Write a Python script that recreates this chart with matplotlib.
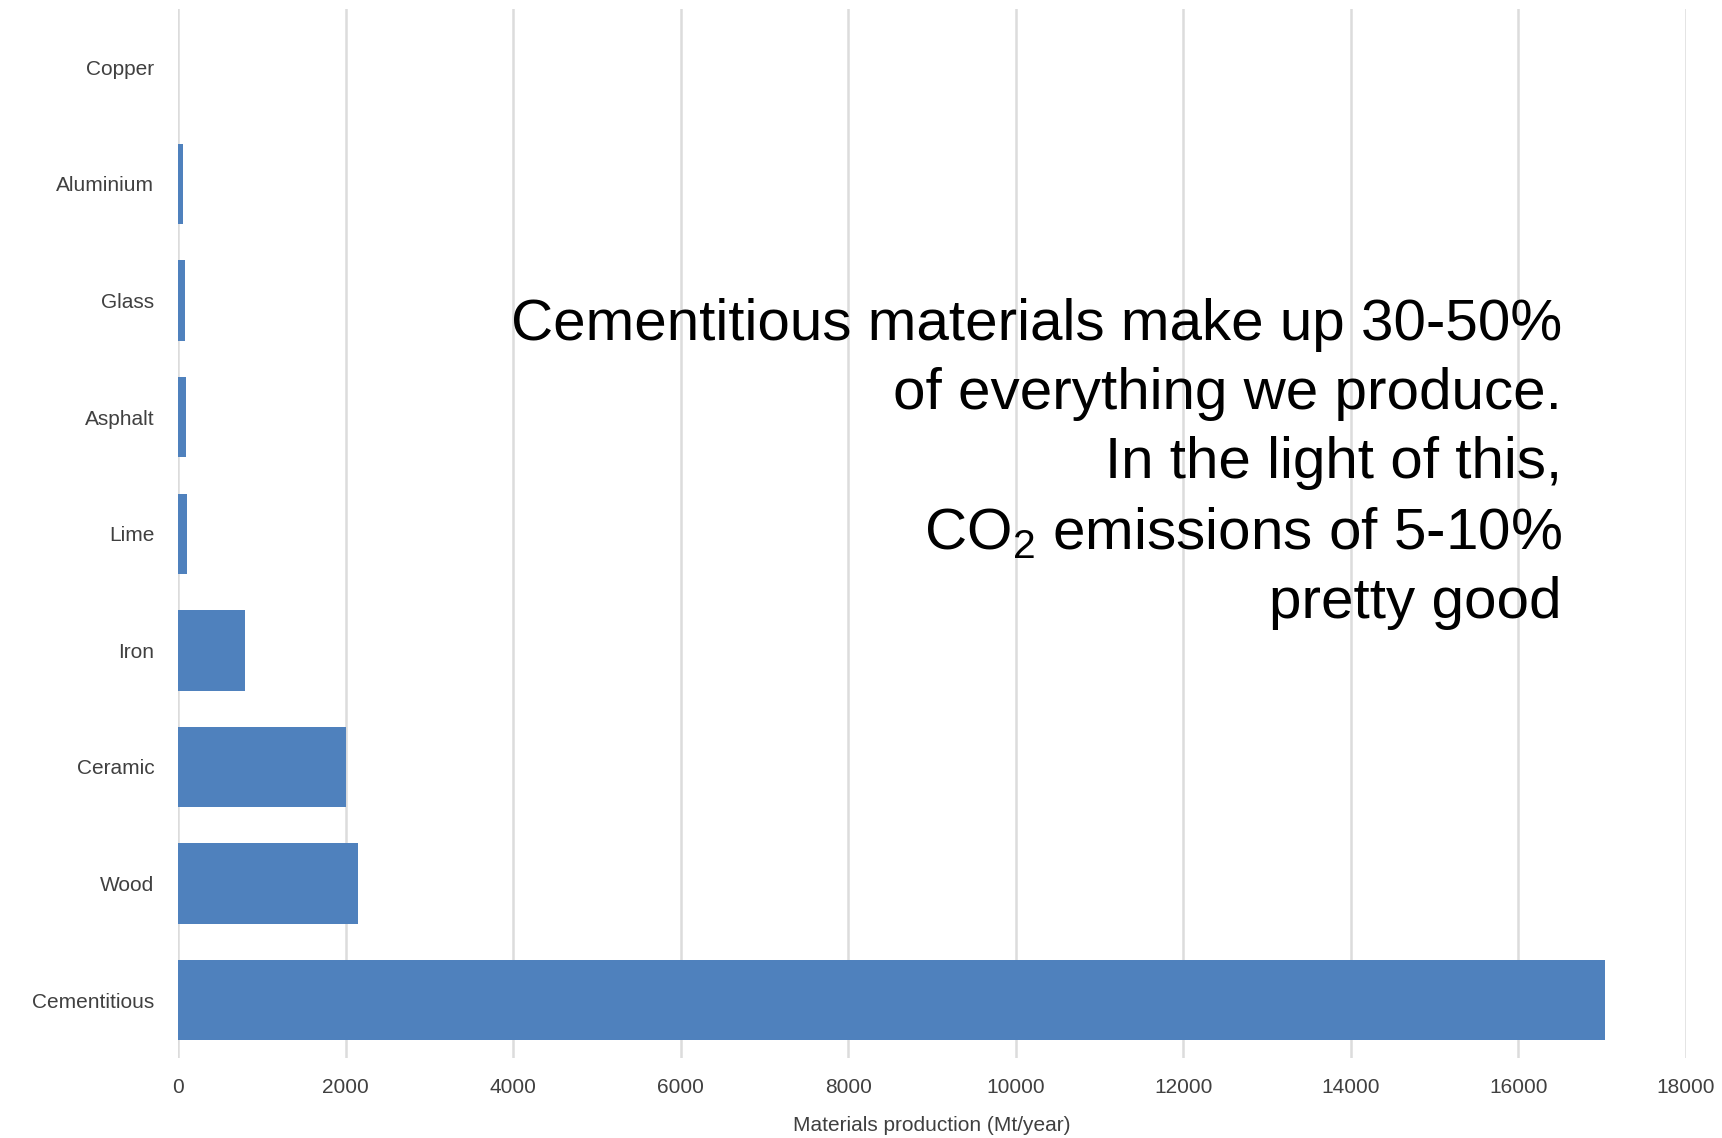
import matplotlib.pyplot as plt
from matplotlib.ticker import MultipleLocator

plt.rcParams['font.family'] = ['Liberation Sans', 'DejaVu Sans']
plt.rcParams['mathtext.fontset'] = 'custom'
plt.rcParams['mathtext.rm'] = 'Liberation Sans'
plt.rcParams['mathtext.it'] = 'Liberation Sans'

# production per material, Mt/year (bottom to top as drawn)
materials = ['Cementitious', 'Wood', 'Ceramic', 'Iron', 'Lime',
             'Asphalt', 'Glass', 'Aluminium', 'Copper']
production = [17030, 2150, 2000, 800, 105, 95, 85, 55, 4]

note_lines = [
    'Cementitious materials make up 30-50%',
    'of everything we produce.',
    'In the light of this,',
    'CO$_2$ emissions of 5-10%',
    'pretty good',
]

bar_color = '#4f81bd'
grid_color = '#dcdcdc'
text_color = '#404040'

fig = plt.figure(figsize=(17.22, 11.38), dpi=100)
ax = fig.add_axes([0.1034, 0.0699, 0.8757, 0.9221])

ax.barh(range(len(materials)), production, height=0.69, color=bar_color, zorder=2)

ax.set_xlim(0, 18000)
ax.set_ylim(-0.5, len(materials) - 0.5)
ax.xaxis.set_major_locator(MultipleLocator(2000))
ax.set_yticks(range(len(materials)))
ax.set_yticklabels(materials)

ax.grid(axis='x', color=grid_color, linewidth=1.8, zorder=0)
for side in ['top', 'right', 'bottom', 'left']:
    ax.spines[side].set_visible(False)
ax.tick_params(axis='both', length=0, labelsize=15, labelcolor=text_color)
ax.tick_params(axis='y', pad=17)
ax.tick_params(axis='x', pad=14)

ax.set_xlabel('Materials production (Mt/year)', fontsize=15, color=text_color, labelpad=14)

fig.text(0.907, 0.5925, '\n'.join(note_lines), ha='right', va='center',
         fontsize=42, color='black', linespacing=1.36)

fig.savefig('out.png', dpi=100)
